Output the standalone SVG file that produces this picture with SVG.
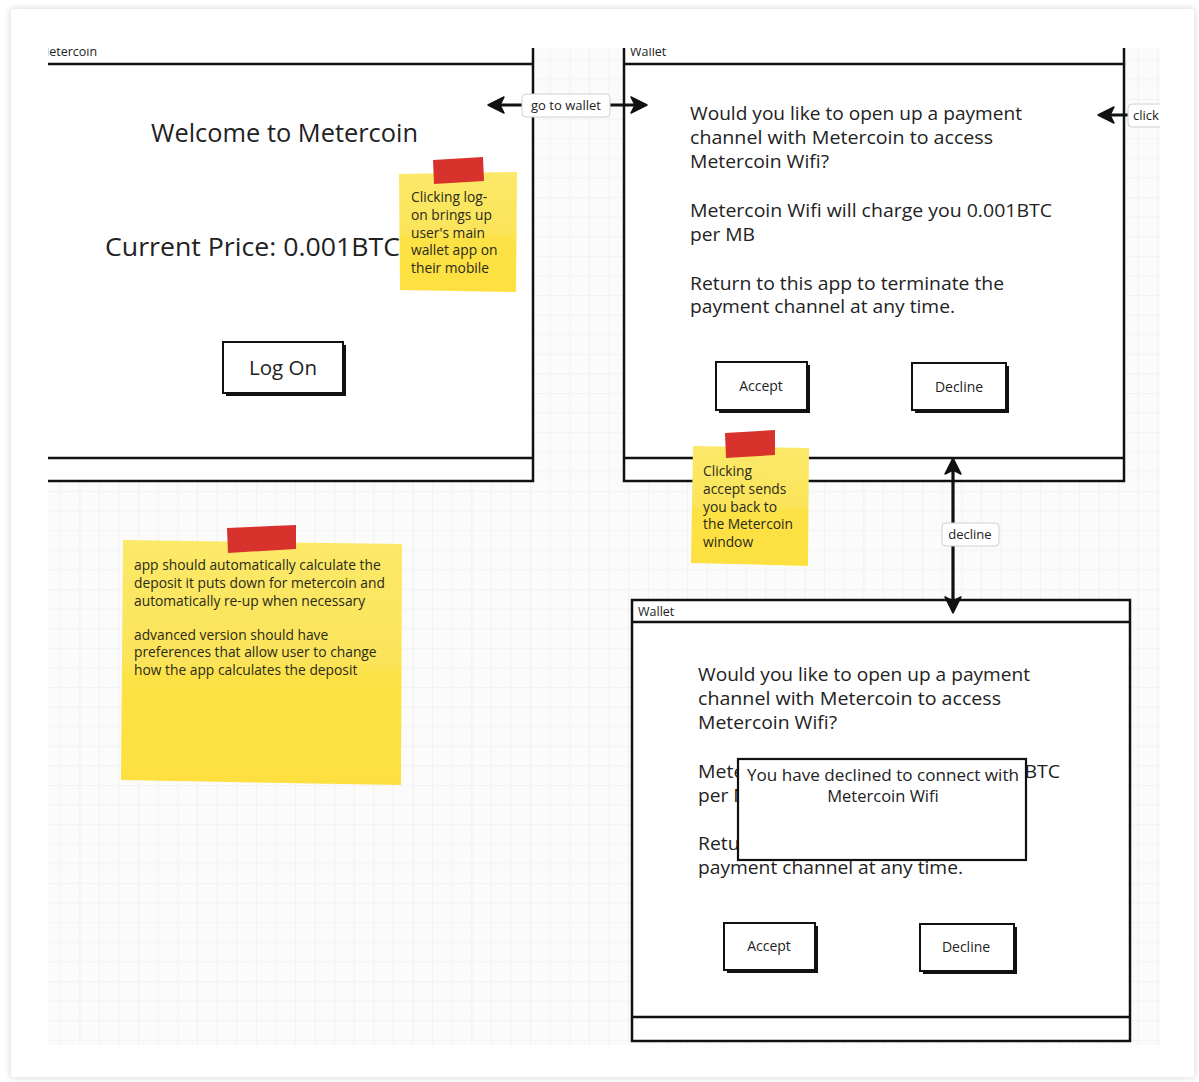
<svg xmlns="http://www.w3.org/2000/svg" width="1199" height="1082" viewBox="0 0 1199 1082">
<defs>
<style>
.win{fill:#fff;stroke:#111;stroke-width:2.5}
.ln{stroke:#111;stroke-width:2.5;fill:none}
.t{font-family:"Open Sans","Liberation Sans",sans-serif;fill:#222}
.big{font-size:25px}
.mid{font-size:18.5px}
.btn{font-size:14px}
.note{font-size:13.8px;fill:#2a2a1a}
.ttl{font-size:12.5px}
.lbl{fill:#fff;stroke:#d0d0d0;stroke-width:1}
.lt{font-family:"Open Sans","Liberation Sans",sans-serif;font-size:13px;fill:#222}
.con{stroke:#111;stroke-width:3.2;fill:none}
.tape{fill:#d8322d}
</style>
<pattern id="grid" width="19.6" height="19.6" patternUnits="userSpaceOnUse" x="2" y="2">
<rect width="19.6" height="19.6" fill="#fbfbfb"/>
<path d="M19.6 0V19.6M0 19.6H19.6" stroke="#ebebeb" stroke-width="1.2" fill="none"/>
</pattern>
<linearGradient id="sticky" x1="0" y1="0" x2="0" y2="1">
<stop offset="0" stop-color="#fbe968"/>
<stop offset="0.5" stop-color="#fbe45a"/>
<stop offset="0.55" stop-color="#fde245"/>
<stop offset="1" stop-color="#fde040"/>
</linearGradient>
<marker id="ah" viewBox="0 0 16 16" refX="14" refY="8" markerWidth="16" markerHeight="16" markerUnits="userSpaceOnUse" orient="auto-start-reverse" overflow="visible">
<path d="M0 0 L16 8 L0 16 L4 8 Z" fill="#111" stroke="#111" stroke-width="1.5" stroke-linejoin="round"/>
</marker>
<clipPath id="cv"><rect x="48" y="48" width="1112" height="997"/></clipPath>
<filter id="sh" x="-5%" y="-5%" width="110%" height="110%"><feGaussianBlur stdDeviation="3"/></filter>
</defs>
<rect width="1199" height="1082" fill="#fff"/>
<rect x="10" y="8" width="1185" height="1070" rx="3" fill="#dcdcdc" filter="url(#sh)"/>
<rect x="11" y="9" width="1183" height="1068" rx="3" fill="#fff"/>
<g clip-path="url(#cv)">
<rect x="48" y="48" width="1112" height="997" fill="url(#grid)"/>

<g id="win-metercoin">
<rect class="win" x="30" y="30" width="503" height="451"/>
<line class="ln" x1="30" y1="64" x2="533" y2="64"/>
<line class="ln" x1="30" y1="458" x2="533" y2="458"/>
<text class="t ttl" x="38" y="56">Metercoin</text>
<text class="t big" x="151" y="142" textLength="267" lengthAdjust="spacingAndGlyphs">Welcome to Metercoin</text>
<text class="t big" x="105" y="256" textLength="295" lengthAdjust="spacingAndGlyphs">Current Price: 0.001BTC</text>
<rect x="226" y="345" width="120" height="51" fill="#111"/>
<rect x="223" y="342" width="120" height="51" fill="#fff" stroke="#111" stroke-width="2"/>
<text class="t" font-size="20.5" x="283" y="375" text-anchor="middle">Log On</text>
</g>

<g id="win-wallet-1">
<rect class="win" x="624" y="30" width="500" height="451"/>
<line class="ln" x1="624" y1="64" x2="1124" y2="64"/>
<line class="ln" x1="624" y1="458" x2="1124" y2="458"/>
<text class="t ttl" x="630" y="56">Wallet</text>
<text class="t mid" x="690" y="120" textLength="332" lengthAdjust="spacingAndGlyphs">Would you like to open up a payment</text>
<text class="t mid" x="690" y="144" textLength="303" lengthAdjust="spacingAndGlyphs">channel with Metercoin to access</text>
<text class="t mid" x="690" y="168" textLength="139" lengthAdjust="spacingAndGlyphs">Metercoin Wifi?</text>
<text class="t mid" x="690" y="217" textLength="362" lengthAdjust="spacingAndGlyphs">Metercoin Wifi will charge you 0.001BTC</text>
<text class="t mid" x="690" y="241" textLength="65" lengthAdjust="spacingAndGlyphs">per MB</text>
<text class="t mid" x="690" y="290" textLength="314" lengthAdjust="spacingAndGlyphs">Return to this app to terminate the</text>
<text class="t mid" x="690" y="313" textLength="265" lengthAdjust="spacingAndGlyphs">payment channel at any time.</text>
<rect x="719" y="365" width="91" height="48" fill="#111"/>
<rect x="716" y="362" width="91" height="48" fill="#fff" stroke="#111" stroke-width="2"/>
<text class="t btn" x="761" y="391" text-anchor="middle">Accept</text>
<rect x="915" y="366" width="94" height="47" fill="#111"/>
<rect x="912" y="363" width="94" height="47" fill="#fff" stroke="#111" stroke-width="2"/>
<text class="t btn" x="959" y="392" text-anchor="middle">Decline</text>
</g>

<g id="win-wallet-2">
<rect class="win" x="632" y="600" width="498" height="441"/>
<line class="ln" x1="632" y1="622" x2="1130" y2="622"/>
<line class="ln" x1="632" y1="1017" x2="1130" y2="1017"/>
<text class="t ttl" x="638" y="616">Wallet</text>
<text class="t mid" x="698" y="681" textLength="332" lengthAdjust="spacingAndGlyphs">Would you like to open up a payment</text>
<text class="t mid" x="698" y="705" textLength="303" lengthAdjust="spacingAndGlyphs">channel with Metercoin to access</text>
<text class="t mid" x="698" y="729" textLength="139" lengthAdjust="spacingAndGlyphs">Metercoin Wifi?</text>
<text class="t mid" x="698" y="778" textLength="362" lengthAdjust="spacingAndGlyphs">Metercoin Wifi will charge you 0.001BTC</text>
<text class="t mid" x="698" y="802" textLength="65" lengthAdjust="spacingAndGlyphs">per MB</text>
<text class="t mid" x="698" y="850" textLength="314" lengthAdjust="spacingAndGlyphs">Return to this app to terminate the</text>
<text class="t mid" x="698" y="874" textLength="265" lengthAdjust="spacingAndGlyphs">payment channel at any time.</text>
<rect x="727" y="926" width="91" height="47" fill="#111"/>
<rect x="724" y="923" width="91" height="47" fill="#fff" stroke="#111" stroke-width="2"/>
<text class="t btn" x="769" y="951" text-anchor="middle">Accept</text>
<rect x="923" y="927" width="94" height="47" fill="#111"/>
<rect x="920" y="924" width="94" height="47" fill="#fff" stroke="#111" stroke-width="2"/>
<text class="t btn" x="966" y="952" text-anchor="middle">Decline</text>
</g>

<g id="dialog-declined">
<rect x="738" y="759" width="288" height="101" fill="#fff" stroke="#111" stroke-width="2.2"/>
<text class="t" font-size="16.5" x="883" y="781" text-anchor="middle" textLength="272" lengthAdjust="spacingAndGlyphs">You have declined to connect with</text>
<text class="t" font-size="16.5" x="883" y="802" text-anchor="middle">Metercoin Wifi</text>
</g>

<g id="connectors">
<line class="con" x1="490" y1="105" x2="645" y2="105" marker-start="url(#ah)" marker-end="url(#ah)"/>
<rect class="lbl" x="522" y="94" width="88" height="23" rx="4"/>
<text class="lt" x="566" y="110" text-anchor="middle">go to wallet</text>
<line class="con" x1="1100" y1="115" x2="1170" y2="115" marker-start="url(#ah)"/>
<rect class="lbl" x="1128" y="104" width="50" height="23" rx="4"/>
<text class="lt" x="1133" y="120">click</text>
<line class="con" x1="953" y1="460" x2="953" y2="611" marker-start="url(#ah)" marker-end="url(#ah)"/>
<rect class="lbl" x="942" y="523" width="57" height="23" rx="4"/>
<text class="lt" x="970" y="539" text-anchor="middle">decline</text>
</g>

<g id="note-login">
<polygon points="399,174 517,172 516,292 400,290" fill="url(#sticky)"/>
<polygon class="tape" points="433,160 483,157 484,181 434,184"/>
<text class="t note" x="411" y="202">Clicking log-</text>
<text class="t note" x="411" y="220">on brings up</text>
<text class="t note" x="411" y="238">user's main</text>
<text class="t note" x="411" y="255">wallet app on</text>
<text class="t note" x="411" y="273">their mobile</text>
</g>

<g id="note-accept">
<polygon points="693,446 809,448 808,566 691,563" fill="url(#sticky)"/>
<polygon class="tape" points="725,433 775,430 775,455 726,458"/>
<text class="t note" x="703" y="476">Clicking</text>
<text class="t note" x="703" y="494">accept sends</text>
<text class="t note" x="703" y="512">you back to</text>
<text class="t note" x="703" y="529">the Metercoin</text>
<text class="t note" x="703" y="547">window</text>
</g>

<g id="note-deposit">
<polygon points="123,540 402,544 401,785 121,780" fill="url(#sticky)"/>
<polygon class="tape" points="227,528 296,525 296,549 228,553"/>
<text class="t note" x="134" y="570">app should automatically calculate the</text>
<text class="t note" x="134" y="588">deposit it puts down for metercoin and</text>
<text class="t note" x="134" y="606">automatically re-up when necessary</text>
<text class="t note" x="134" y="640">advanced version should have</text>
<text class="t note" x="134" y="657">preferences that allow user to change</text>
<text class="t note" x="134" y="675">how the app calculates the deposit</text>
</g>
</g>
</svg>
